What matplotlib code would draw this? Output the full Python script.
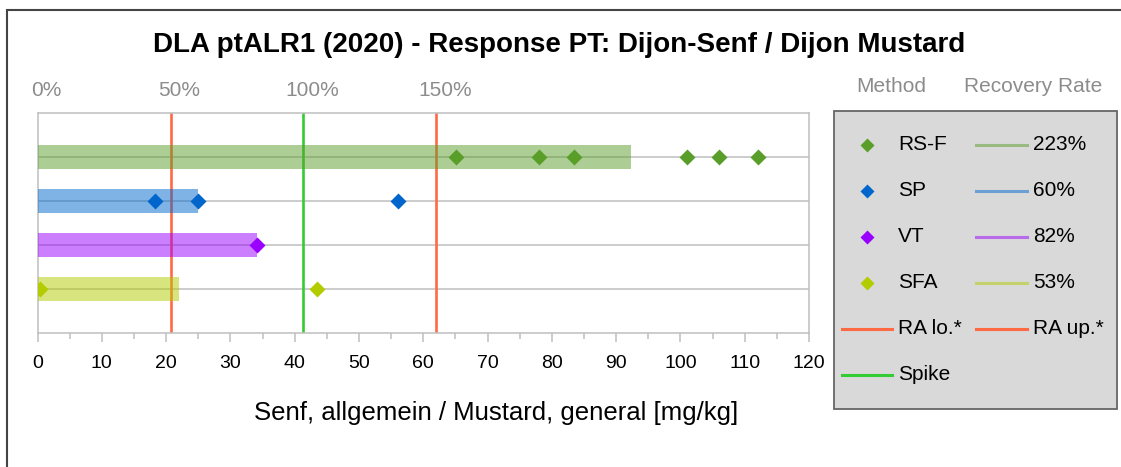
import matplotlib
matplotlib.use('Agg')
import matplotlib.pyplot as plt
from matplotlib.patches import Rectangle
from matplotlib.lines import Line2D
from matplotlib.ticker import MultipleLocator
from matplotlib.transforms import ScaledTranslation

plt.rcParams['font.family'] = ['Liberation Sans', 'DejaVu Sans']

# data
methods = ['RS-F', 'SP', 'VT', 'SFA']
results = [[65.1, 78.0, 83.4, 101.1, 106.0, 112.1],
           [18.2, 25.0, 56.1],
           [34.1],
           [0.4, 43.5]]
medians = [92.3, 25.0, 34.1, 22.0]
recovery = ['223%', '60%', '82%', '53%']
spike = 41.3
ra_lo = 20.7
ra_up = 62.0
colors = ['#5a9e2a', '#0066cc', '#9900ff', '#b3cc00']
rows = [4, 3, 2, 1]

W, H = 1121, 467
fig = plt.figure(figsize=(W / 100, H / 100), dpi=100)
ax = fig.add_axes([37.5 / W, 1 - 332.7 / H, 771.5 / W, 219.7 / H])

grid_c = '#bfbfbf'
for r in rows:
    ax.axhline(r, color=grid_c, lw=1.1, zorder=1)

ax.axvline(ra_lo, color='#ff6a45', lw=1.9, zorder=2)
ax.axvline(ra_up, color='#ff6a45', lw=1.9, zorder=2)
ax.axvline(spike, color='#33cc33', lw=1.9, zorder=2)

ax.barh(rows, medians, height=0.55, color=colors, alpha=0.5, zorder=3, linewidth=0)
for r, vals, c in zip(rows, results, colors):
    ax.plot(vals, [r] * len(vals), 'D', color=c, ms=8, mec='none', zorder=4)

ax.set_xlim(0, 120)
ax.set_ylim(0, 5)
ax.set_yticks([])
ax.xaxis.set_major_locator(MultipleLocator(10))
ax.xaxis.set_minor_locator(MultipleLocator(5))
ax.tick_params(axis='x', which='major', length=6.3, width=1.1, color=grid_c,
               labelsize=14, pad=9.5)
ax.tick_params(axis='x', which='minor', length=4.5, width=1.1, color=grid_c)
for s in ax.spines.values():
    s.set_color(grid_c)
    s.set_linewidth(1.1)

top = ax.secondary_xaxis('top', functions=(lambda x: x / spike * 100,
                                           lambda p: p * spike / 100))
top.set_xticks([0, 50, 100, 150])
top.set_xticklabels(['0%', '50%', '100%', '150%'])
top.tick_params(length=0, labelsize=15, labelcolor='#8c8c8c', pad=9.5)
top.spines['top'].set_visible(False)
shift = ScaledTranslation(9 / 100, 0, fig.dpi_scale_trans)
for lbl in top.get_xticklabels():
    lbl.set_transform(lbl.get_transform() + shift)

fig.text(559 / W, 1 - 45 / H, 'DLA ptALR1 (2020) - Response PT: Dijon-Senf / Dijon Mustard',
         ha='center', va='center', fontsize=20, fontweight='bold')
fig.text(496 / W, 1 - 413 / H, 'Senf, allgemein / Mustard, general [mg/kg]',
         ha='center', va='center', fontsize=18.5)

# outer frame
fig.patches.append(Rectangle((7 / W, -0.1), 1.2, 1.1 - 10 / H, transform=fig.transFigure,
                             fill=False, edgecolor='#444444', lw=1.5))

# legend box drawn by hand
fig.patches.append(Rectangle((833.5 / W, 1 - 408.5 / H), 283 / W, 298 / H,
                             transform=fig.transFigure, facecolor='#d9d9d9',
                             edgecolor='#666666', lw=1.3))
hdr_c = '#8c8c8c'
fig.text(891.5 / W, 1 - 87 / H, 'Method', ha='center', va='center', fontsize=15, color=hdr_c)
fig.text(1033 / W, 1 - 87 / H, 'Recovery Rate', ha='center', va='center', fontsize=15, color=hdr_c)

ys = [145, 191, 237, 283, 329, 375]
for i, (m, rec, c) in enumerate(zip(methods, recovery, colors)):
    y = 1 - ys[i] / H
    fig.add_artist(Line2D([866.7 / W], [y], marker='D', ms=7.5, color=c, mec='none',
                          transform=fig.transFigure))
    fig.text(898 / W, y, m, va='center', fontsize=15)
    fig.add_artist(Line2D([975.7 / W, 1026.7 / W], [y, y], color=c, alpha=0.5, lw=2.2,
                          transform=fig.transFigure))
    fig.text(1033 / W, y, rec, va='center', fontsize=15)

y = 1 - ys[4] / H
fig.add_artist(Line2D([841.7 / W, 891.7 / W], [y, y], color='#ff6a45', lw=2.2,
                      transform=fig.transFigure))
fig.text(898 / W, y, 'RA lo.*', va='center', fontsize=15)
fig.add_artist(Line2D([975.7 / W, 1026.7 / W], [y, y], color='#ff6a45', lw=2.2,
                      transform=fig.transFigure))
fig.text(1033 / W, y, 'RA up.*', va='center', fontsize=15)
y = 1 - ys[5] / H
fig.add_artist(Line2D([841.7 / W, 891.7 / W], [y, y], color='#33cc33', lw=2.2,
                      transform=fig.transFigure))
fig.text(898 / W, y, 'Spike', va='center', fontsize=15)

fig.savefig('out.png', dpi=100)
